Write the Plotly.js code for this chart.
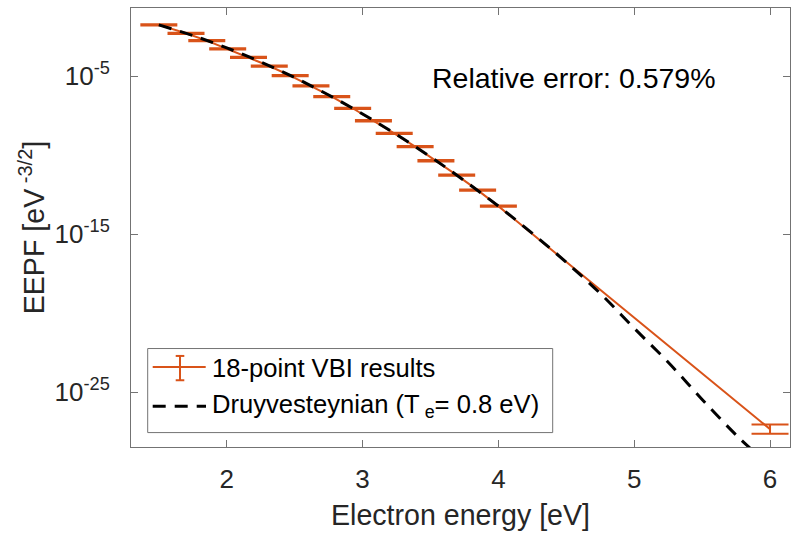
<!DOCTYPE html>
<html>
<head>
<meta charset="utf-8">
<script src="https://cdn.plot.ly/plotly-3.0.1.min.js"></script>
<style>
  html, body { margin: 0; padding: 0; background: #fff; }
  #chart { width: 792px; height: 536px; }
</style>
</head>
<body>
<div id="chart"></div>
<script>
// ---- data ----
const energy = [1.5, 1.70, 1.853, 2.007, 2.16, 2.313, 2.467, 2.62, 2.773, 2.927, 3.08, 3.233, 3.387, 3.54, 3.693, 3.847, 4.0, 6.0];
const eepf = [1.70e-2, 5.01e-3, 1.74e-3, 5.13e-4, 1.51e-4, 4.27e-5, 1.05e-5, 2.34e-6, 4.90e-7, 9.12e-8, 1.48e-8, 2.34e-9, 3.39e-10, 4.37e-11, 5.37e-12, 6.03e-13, 5.89e-14, 4.68e-28];
const errDecades = [0.04, 0.04, 0.04, 0.04, 0.04, 0.04, 0.04, 0.04, 0.04, 0.04, 0.04, 0.04, 0.04, 0.04, 0.04, 0.04, 0.04, 0.285];

const druyEnergy = [1.5, 1.75, 2.0, 2.25, 2.5, 2.75, 3.0, 3.25, 3.5, 3.75, 4.0, 4.25, 4.5, 4.75, 5.0, 5.25, 5.5, 5.75, 5.9];
const druyEepf = [1.70e-2, 3.63e-3, 6.03e-4, 7.76e-5, 7.94e-6, 6.31e-7, 3.98e-8, 2.00e-9, 7.76e-11, 2.40e-12, 5.89e-14, 1.12e-15, 1.66e-17, 1.78e-19, 1.12e-21, 7.94e-24, 3.55e-26, 2.00e-28, 1.26e-29];

const xTicks = [2, 3, 4, 5, 6];
const yTickVals = [1e-25, 1e-15, 1e-5];
const yTickText = ['10<sup>-25</sup>', '10<sup>-15</sup>', '10<sup>-5</sup>'];

const seriesNames = ['18-point VBI results', 'Druyvesteynian (T<sub> e</sub>= 0.8 eV)'];
const noteText = 'Relative error: 0.579%';

// ---- styling ----
const ORANGE = '#D95319';
const TXT = '#262626';
const AXC = '#737373';
const FONT = 'Liberation Sans, Arial, Helvetica, sans-serif';

const errPlus = eepf.map((v, i) => v * (Math.pow(10, errDecades[i]) - 1));
const errMinus = eepf.map((v, i) => v * (1 - Math.pow(10, -errDecades[i])));

const traces = [
  {
    x: energy, y: eepf, type: 'scatter', mode: 'lines',
    name: seriesNames[0], showlegend: false,
    line: { color: ORANGE, width: 2 },
    error_y: { type: 'data', symmetric: false, array: errPlus, arrayminus: errMinus,
               color: ORANGE, thickness: 2, width: 18.5 }
  },
  {
    x: druyEnergy, y: druyEepf, type: 'scatter', mode: 'lines',
    name: seriesNames[1], showlegend: false,
    line: { color: '#000000', width: 3, dash: '13px,9px', shape: 'spline' }
  }
];

// plot-area pixel geometry helpers (for legend box only)
const L = 131, R = 790, T = 8, B = 446.7;
const px = v => (v - L) / (R - L);
const py = v => (B - v) / (B - T);

const shapes = [
  { type: 'rect', xref: 'paper', yref: 'paper', x0: px(147.7), x1: px(552.7), y0: py(432.3), y1: py(348.3),
    line: { color: AXC, width: 1 }, fillcolor: '#ffffff', layer: 'above' },
  // legend row 1 sample: line + error bar glyph
  { type: 'line', xref: 'paper', yref: 'paper', x0: px(152.7), x1: px(205.7), y0: py(366.7), y1: py(366.7),
    line: { color: ORANGE, width: 2 }, layer: 'above' },
  { type: 'line', xref: 'paper', yref: 'paper', x0: px(180), x1: px(180), y0: py(355.7), y1: py(380),
    line: { color: ORANGE, width: 2 }, layer: 'above' },
  { type: 'line', xref: 'paper', yref: 'paper', x0: px(175.7), x1: px(184.3), y0: py(355.7), y1: py(355.7),
    line: { color: ORANGE, width: 2 }, layer: 'above' },
  { type: 'line', xref: 'paper', yref: 'paper', x0: px(175.7), x1: px(184.3), y0: py(380), y1: py(380),
    line: { color: ORANGE, width: 2 }, layer: 'above' },
  // legend row 2 sample: dashed line
  { type: 'line', xref: 'paper', yref: 'paper', x0: px(152.7), x1: px(206), y0: py(406), y1: py(406),
    line: { color: '#000000', width: 3, dash: '13px,9px' }, layer: 'above' }
];

const annotations = [
  { xref: 'paper', yref: 'paper', x: px(430), y: py(78), xanchor: 'left', yanchor: 'middle',
    text: noteText, showarrow: false, font: { family: FONT, size: 28.5, color: '#000000' } },
  { xref: 'paper', yref: 'paper', x: px(210), y: py(368), xanchor: 'left', yanchor: 'middle',
    text: seriesNames[0], showarrow: false, font: { family: FONT, size: 25.6, color: '#000000' } },
  { xref: 'paper', yref: 'paper', x: px(210), y: py(406), xanchor: 'left', yanchor: 'middle',
    text: seriesNames[1], showarrow: false, font: { family: FONT, size: 25.6, color: '#000000' } }
];

const layout = {
  width: 792, height: 536,
  margin: { l: L, r: 792 - R, t: T, b: 536 - B, pad: 0 },
  paper_bgcolor: '#ffffff', plot_bgcolor: '#ffffff',
  font: { family: FONT, color: TXT, size: 26 },
  showlegend: false,
  xaxis: {
    range: [1.295, 6.147], tickvals: xTicks, ticktext: xTicks.map(String),
    ticks: 'inside', ticklen: 7, tickcolor: AXC, tickwidth: 1,
    showline: true, linecolor: AXC, linewidth: 1, mirror: 'allticks',
    showgrid: false, zeroline: false,
    tickfont: { family: FONT, size: 26, color: TXT },
    ticklabelstandoff: 9,
    title: { text: 'Electron energy [eV]', font: { family: FONT, size: 28.6, color: TXT }, standoff: 11 },
    automargin: false
  },
  yaxis: {
    type: 'log', range: [-28.46, -0.70],
    tickvals: yTickVals, ticktext: yTickText,
    ticks: 'inside', ticklen: 7, tickcolor: AXC, tickwidth: 1,
    showline: true, linecolor: AXC, linewidth: 1, mirror: 'allticks',
    showgrid: false, zeroline: false,
    tickfont: { family: FONT, size: 26, color: TXT },
    ticklabelstandoff: 15,
    title: { text: 'EEPF [eV<sup> -3/2</sup>]', font: { family: FONT, size: 28.6, color: TXT }, standoff: 1 },
    automargin: false
  },
  shapes: shapes,
  annotations: annotations
};

Plotly.newPlot('chart', traces, layout, { displayModeBar: false, staticPlot: true });
</script>
</body>
</html>
